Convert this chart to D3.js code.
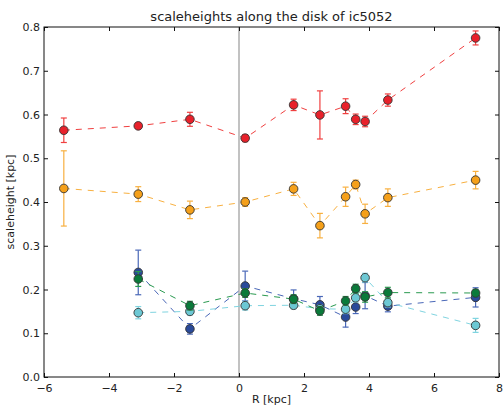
<!DOCTYPE html>
<html>
<head lang="en">
    <meta charset="UTF-8">
    <title>scaleheights</title>
    <script type="text/javascript" src="https://cdn.jsdelivr.net/npm/d3@7"></script>
    <style>
        body { margin: 0; background: white; }
        text { font-family: "DejaVu Sans", sans-serif; fill: #222; }
    </style>
</head>
<body>
<svg id="mainSvg"></svg>
<script>
    // radial positions (kpc)
    var radii = [-5.39, -3.1, -1.51, 0.19, 1.68, 2.49, 3.28, 3.59, 3.88, 4.58, 7.28];
    var redVals = [0.564, 0.574, 0.589, 0.546, 0.622, 0.599, 0.619, 0.589, 0.584, 0.633, 0.775];
    var redErr = [0.028, 0.006, 0.016, 0.008, 0.013, 0.055, 0.017, 0.012, 0.012, 0.014, 0.016];
    var orangeVals = [0.431, 0.418, 0.382, 0.400, 0.430, 0.346, 0.412, 0.440, 0.373, 0.410, 0.450];
    var orangeErr = [0.086, 0.017, 0.020, 0.010, 0.015, 0.028, 0.022, 0.010, 0.022, 0.020, 0.020];
    // the lower three start at the second radius
    var blueVals = [0.239, 0.110, 0.208, 0.179, 0.165, 0.137, 0.160, 0.186, 0.162, 0.182];
    var blueErr = [0.051, 0.012, 0.034, 0.020, 0.019, 0.023, 0.015, 0.030, 0.013, 0.022];
    var cyanVals = [0.147, 0.150, 0.163, 0.164, 0.156, 0.155, 0.181, 0.227, 0.170, 0.118];
    var cyanErr = [0.014, 0.008, 0.010, 0.008, 0.008, 0.010, 0.010, 0.010, 0.010, 0.016];
    var greenVals = [0.224, 0.163, 0.192, 0.178, 0.151, 0.174, 0.202, 0.183, 0.193, 0.192];
    var greenErr = [0.017, 0.010, 0.010, 0.010, 0.010, 0.010, 0.010, 0.012, 0.012, 0.008];
    var xTicks = [-6, -4, -2, 0, 2, 4, 6, 8];
    var yTicks = [0.0, 0.1, 0.2, 0.3, 0.4, 0.5, 0.6, 0.7, 0.8];

    function zipSeries(xs, ys, es) {
        return ys.map(function (y, i) { return {x: xs[i], y: y, e: es[i]}; });
    }
    var lower = radii.slice(1);
    var series = [
        {color: "#e8212b", line: "#f04040", pts: zipSeries(radii, redVals, redErr)},
        {color: "#f5a01a", line: "#f8b040", pts: zipSeries(radii, orangeVals, orangeErr)},
        {color: "#2a4a9a", line: "#4a68b8", pts: zipSeries(lower, blueVals, blueErr)},
        {color: "#6cc8d4", line: "#80d4e0", pts: zipSeries(lower, cyanVals, cyanErr)},
        {color: "#0a7a3a", line: "#2a9a50", pts: zipSeries(lower, greenVals, greenErr)}
    ];

    var w = 503, h = 407;
    var pLeft = 44, pRight = 499, pTop = 27, pBottom = 377;
    var svg = d3.select("#mainSvg").attr("width", w).attr("height", h);

    var x = d3.scaleLinear().domain([-6, 8]).range([pLeft, pRight]);
    var y = d3.scaleLinear().domain([0, 0.8]).range([pBottom, pTop]);

    // vertical line at R = 0
    svg.append("line")
            .attr("x1", x(0)).attr("x2", x(0))
            .attr("y1", pTop).attr("y2", pBottom)
            .attr("stroke", "#999").attr("stroke-width", 1.2);

    var line = d3.line().x(function (d) { return x(d.x); }).y(function (d) { return y(d.y); });

    series.forEach(function (s) {
        var g = svg.append("g");
        g.append("path")
                .attr("d", line(s.pts))
                .attr("fill", "none")
                .attr("stroke", s.line)
                .attr("stroke-width", 1)
                .attr("stroke-dasharray", "6,6");
        var bars = g.selectAll("g.err").data(s.pts).enter().append("g")
                .attr("stroke", s.line).attr("stroke-width", 1.2);
        bars.append("line")
                .attr("x1", function (d) { return x(d.x); })
                .attr("x2", function (d) { return x(d.x); })
                .attr("y1", function (d) { return y(d.y - d.e); })
                .attr("y2", function (d) { return y(d.y + d.e); });
        [-1, 1].forEach(function (sgn) {
            bars.append("line")
                    .attr("x1", function (d) { return x(d.x) - 3; })
                    .attr("x2", function (d) { return x(d.x) + 3; })
                    .attr("y1", function (d) { return y(d.y + sgn * d.e); })
                    .attr("y2", function (d) { return y(d.y + sgn * d.e); });
        });
        g.selectAll("circle").data(s.pts).enter().append("circle")
                .attr("cx", function (d) { return x(d.x); })
                .attr("cy", function (d) { return y(d.y); })
                .attr("r", 4.3)
                .attr("fill", s.color)
                .attr("stroke", "#333")
                .attr("stroke-width", 0.9);
    });

    // axes: ticks inward on all four sides
    var tl = 4;
    svg.append("rect")
            .attr("x", pLeft).attr("y", pTop)
            .attr("width", pRight - pLeft).attr("height", pBottom - pTop)
            .attr("fill", "none").attr("stroke", "#111").attr("stroke-width", 1);

    var xAxis = svg.append("g").attr("transform", "translate(0," + pBottom + ")")
            .call(d3.axisBottom(x).tickValues(xTicks).tickSize(-tl).tickPadding(7)
                    .tickFormat(function (d) { return d < 0 ? "\u2212" + Math.abs(d) : d; }));
    var xAxisTop = svg.append("g").attr("transform", "translate(0," + pTop + ")")
            .call(d3.axisTop(x).tickValues(xTicks).tickSize(-tl).tickFormat(""));
    var yAxis = svg.append("g").attr("transform", "translate(" + pLeft + ",0)")
            .call(d3.axisLeft(y).tickValues(yTicks).tickSize(-tl).tickPadding(4)
                    .tickFormat(d3.format(".1f")));
    var yAxisR = svg.append("g").attr("transform", "translate(" + pRight + ",0)")
            .call(d3.axisRight(y).tickValues(yTicks).tickSize(-tl).tickFormat(""));
    [xAxis, xAxisTop, yAxis, yAxisR].forEach(function (a) {
        a.select(".domain").remove();
        a.selectAll(".tick line").attr("stroke", "#111");
        a.selectAll("text").attr("font-size", 11).attr("font-family", "DejaVu Sans").attr("fill", "#222");
    });

    svg.append("text")
            .attr("x", (pLeft + pRight) / 2).attr("y", 21)
            .attr("text-anchor", "middle").attr("font-size", 13)
            .text("scaleheights along the disk of ic5052");
    svg.append("text")
            .attr("x", (pLeft + pRight) / 2).attr("y", 403)
            .attr("text-anchor", "middle").attr("font-size", 11)
            .text("R [kpc]");
    svg.append("text")
            .attr("transform", "translate(14," + ((pTop + pBottom) / 2) + ") rotate(-90)")
            .attr("text-anchor", "middle").attr("font-size", 11)
            .text("scaleheight [kpc]");
</script>
</body>
</html>
